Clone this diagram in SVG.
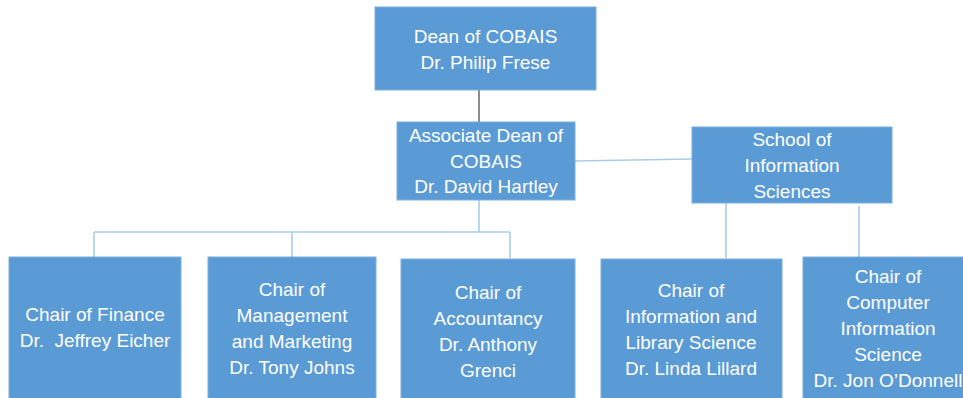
<svg xmlns="http://www.w3.org/2000/svg" width="963" height="398" viewBox="0 0 963 398">
<style>
.box{fill:#5B9BD5;stroke:#7DAEDD;stroke-width:1}
.t{font-family:"Liberation Sans",Arial,sans-serif;font-size:19px;fill:#FFFFFF;text-anchor:middle;white-space:pre}
.c{fill:none;stroke:#A9CBEB;stroke-width:1.6}
.d{fill:none;stroke:#5A5A5A;stroke-width:1.4}
</style>
<rect width="963" height="398" fill="#FFFFFF"/>
<g id="connectors">
<path class="d" d="M479,90 V122"/>
<path class="c" d="M575,161 L692,159"/>
<path class="c" d="M479,200 V232 M94,232 H510 M94,232 V257 M292,232 V257 M510,232 V258"/>
<path class="c" d="M726,203 V258 M859,206 V257"/>
</g>
<g id="dean">
<rect class="box" x="375" y="7" width="221" height="83"/>
<text class="t" x="485.5" y="43">Dean of COBAIS</text>
<text class="t" x="485.5" y="69">Dr. Philip Frese</text>
</g>
<g id="assoc-dean">
<rect class="box" x="397" y="122" width="178" height="78"/>
<text class="t" x="486" y="142">Associate Dean of</text>
<text class="t" x="486" y="168">COBAIS</text>
<text class="t" x="486" y="193">Dr. David Hartley</text>
</g>
<g id="school">
<rect class="box" x="692" y="127" width="200" height="76"/>
<text class="t" x="792" y="146">School of</text>
<text class="t" x="792" y="172">Information</text>
<text class="t" x="792" y="198">Sciences</text>
</g>
<g id="finance">
<rect class="box" x="9" y="257" width="172" height="145"/>
<text class="t" x="95" y="321">Chair of Finance</text>
<text class="t" x="95" y="347">Dr.  Jeffrey Eicher</text>
</g>
<g id="management">
<rect class="box" x="208" y="257" width="168" height="145"/>
<text class="t" x="292" y="296">Chair of</text>
<text class="t" x="292" y="322">Management</text>
<text class="t" x="292" y="348">and Marketing</text>
<text class="t" x="292" y="374">Dr. Tony Johns</text>
</g>
<g id="accountancy">
<rect class="box" x="401" y="259" width="174" height="143"/>
<text class="t" x="488" y="299">Chair of</text>
<text class="t" x="488" y="325">Accountancy</text>
<text class="t" x="488" y="351">Dr. Anthony</text>
<text class="t" x="488" y="377">Grenci</text>
</g>
<g id="info-library">
<rect class="box" x="601" y="259" width="181" height="143"/>
<text class="t" x="691" y="297">Chair of</text>
<text class="t" x="691" y="323">Information and</text>
<text class="t" x="691" y="349">Library Science</text>
<text class="t" x="691" y="375">Dr. Linda Lillard</text>
</g>
<g id="computer-info">
<rect class="box" x="803" y="257" width="172" height="145"/>
<text class="t" x="888" y="283">Chair of</text>
<text class="t" x="888" y="309">Computer</text>
<text class="t" x="888" y="335">Information</text>
<text class="t" x="888" y="361">Science</text>
<text class="t" x="888" y="387">Dr. Jon O’Donnell</text>
</g>
</svg>
